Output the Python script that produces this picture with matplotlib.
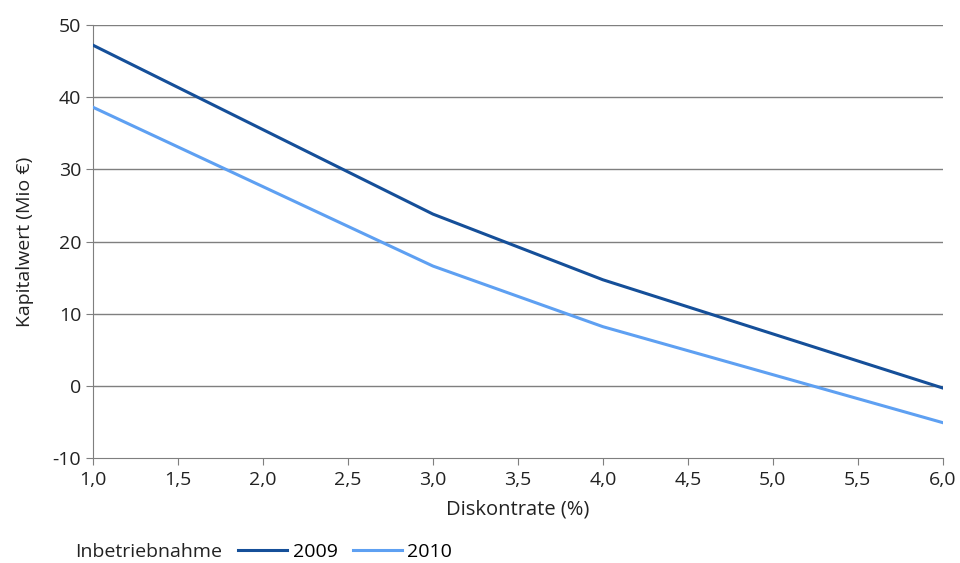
import matplotlib.pyplot as plt
from matplotlib.ticker import FuncFormatter

plt.rcParams['font.family'] = ['Open Sans', 'DejaVu Sans']
plt.rcParams['axes.unicode_minus'] = False

# Diskontrate (%) und Kapitalwert (Mio €)
diskontrate = [1.0, 3.0, 4.0, 6.0]
kw_2009 = [47.2, 23.8, 14.7, -0.3]
kw_2010 = [38.6, 16.6, 8.2, -5.1]
jahre = ['2009', '2010']
farben = ['#154f99', '#5ea0f2']

fig = plt.figure(figsize=(9.6, 5.63), dpi=100)
ax = fig.add_axes([0.097, 0.1865, 0.885, 0.769])

for gridwert in range(0, 51, 10):
    ax.axhline(gridwert, color='#7f7f7f', lw=1.0, zorder=1)

linien = []
for werte, farbe in zip([kw_2009, kw_2010], farben):
    l, = ax.plot(diskontrate, werte, color=farbe, lw=2.2, zorder=3)
    linien.append(l)

ax.set_xlim(1.0, 6.0)
ax.set_ylim(-10, 50)
ax.set_xticks([1.0 + 0.5 * i for i in range(11)])
ax.set_yticks(range(-10, 51, 10))
ax.xaxis.set_major_formatter(FuncFormatter(lambda v, p: f'{v:.1f}'.replace('.', ',')))
ax.yaxis.set_major_formatter(FuncFormatter(lambda v, p: f'{v:.0f}'))
ax.tick_params(axis='both', direction='out', length=5, color='#7f7f7f', labelsize=14, colors='#222222')
ax.tick_params(axis='x', pad=4)
for s in ['top', 'right']:
    ax.spines[s].set_visible(False)
for s in ['left', 'bottom']:
    ax.spines[s].set_color('#7f7f7f')

ax.set_xlabel('Diskontrate (%)', fontsize=14.5, color='#222222')
ax.xaxis.set_label_coords(0.5, -0.095)
ax.set_ylabel('Kapitalwert (Mio €)', fontsize=14, color='#222222')
ax.yaxis.set_label_coords(-0.07, 0.5)

fig.text(0.078, 0.0195, 'Inbetriebnahme', fontsize=14, color='#222222', va='center')
leg = fig.legend(linien, jahre, loc='center left', bbox_to_anchor=(0.248, 0.0195),
                 ncol=2, frameon=False, fontsize=14, handlelength=2.5,
                 handletextpad=0.3, columnspacing=0.8, borderpad=0, borderaxespad=0)

fig.savefig('out.png', dpi=100)
